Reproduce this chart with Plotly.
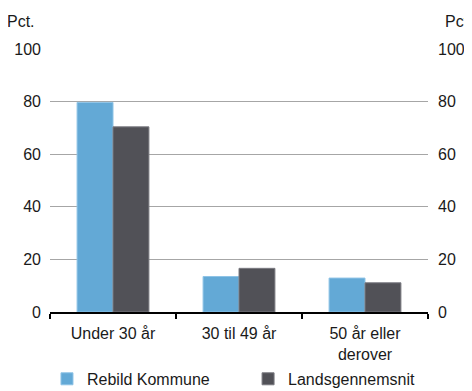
import plotly.graph_objects as go

categories = ["Under 30 år", "30 til 49 år", "50 år eller<br>derover"]
rebild = [79.7, 13.5, 12.9]
lands = [70.4, 16.6, 11.1]
series_names = ["Rebild Kommune", "Landsgennemsnit"]
y_ticks = [0, 20, 40, 60, 80, 100]

FONT = "Arial, Liberation Sans, sans-serif"
TXT = "#1a1a1a"

fig = go.Figure()
fig.add_trace(go.Bar(x=categories, y=rebild, name=series_names[0], legend="legend",
                     marker=dict(color="#63a9d6", line=dict(color="#8ec3e6", width=1))))
fig.add_trace(go.Bar(x=categories, y=lands, name=series_names[1], legend="legend2",
                     marker=dict(color="#515157", line=dict(color="#7a7a80", width=1))))
fig.add_trace(go.Scatter(x=[categories[0]], y=[None], yaxis="y2", showlegend=False,
                         hoverinfo="skip", mode="markers"))

leg_common = dict(orientation="h", xanchor="left", yref="container", y=0.076,
                  yanchor="top", font=dict(size=16, color=TXT), itemwidth=30,
                  bgcolor="rgba(0,0,0,0)")

# page body has an 8px margin, so the figure is 8px smaller than the window
fig.update_layout(
    width=464, height=383,
    margin=dict(l=42, r=44, t=41, b=79, autoexpand=False),
    paper_bgcolor="white", plot_bgcolor="white",
    font=dict(family=FONT, size=16, color=TXT),
    barmode="group", bargap=0.43, bargroupgap=0,
    showlegend=True,
    legend=dict(x=-0.008, **leg_common),
    legend2=dict(x=0.524, **leg_common),
    xaxis=dict(showline=True, linecolor="black", linewidth=1.5, automargin=False,
               ticks="outside", tickson="boundaries", ticklen=5, tickcolor="black",
               tickwidth=1.5, showgrid=False, zeroline=False, ticklabelstandoff=6,
               tickfont=dict(size=16, color=TXT)),
    yaxis=dict(range=[0, 100], tickvals=y_ticks, showgrid=True, gridcolor="#a6a6a6",
               gridwidth=1, zeroline=False, showline=False, ticks="", automargin=False,
               ticklabelstandoff=8, tickfont=dict(size=16, color=TXT)),
    yaxis2=dict(range=[0, 100], tickvals=y_ticks, overlaying="y", side="right",
                showgrid=False, zeroline=False, showline=False, ticks="", automargin=False,
                ticklabelstandoff=9, tickfont=dict(size=16, color=TXT)),
    annotations=[
        dict(text="Pct.", xref="paper", yref="paper", x=-0.035, y=1.104,
             xanchor="right", yanchor="middle", showarrow=False,
             font=dict(size=16, color=TXT)),
        dict(text="Pct.", xref="paper", yref="paper", x=1.0397, y=1.104,
             xanchor="left", yanchor="middle", showarrow=False,
             font=dict(size=16, color=TXT)),
    ],
)

fig.write_html("out.html")
